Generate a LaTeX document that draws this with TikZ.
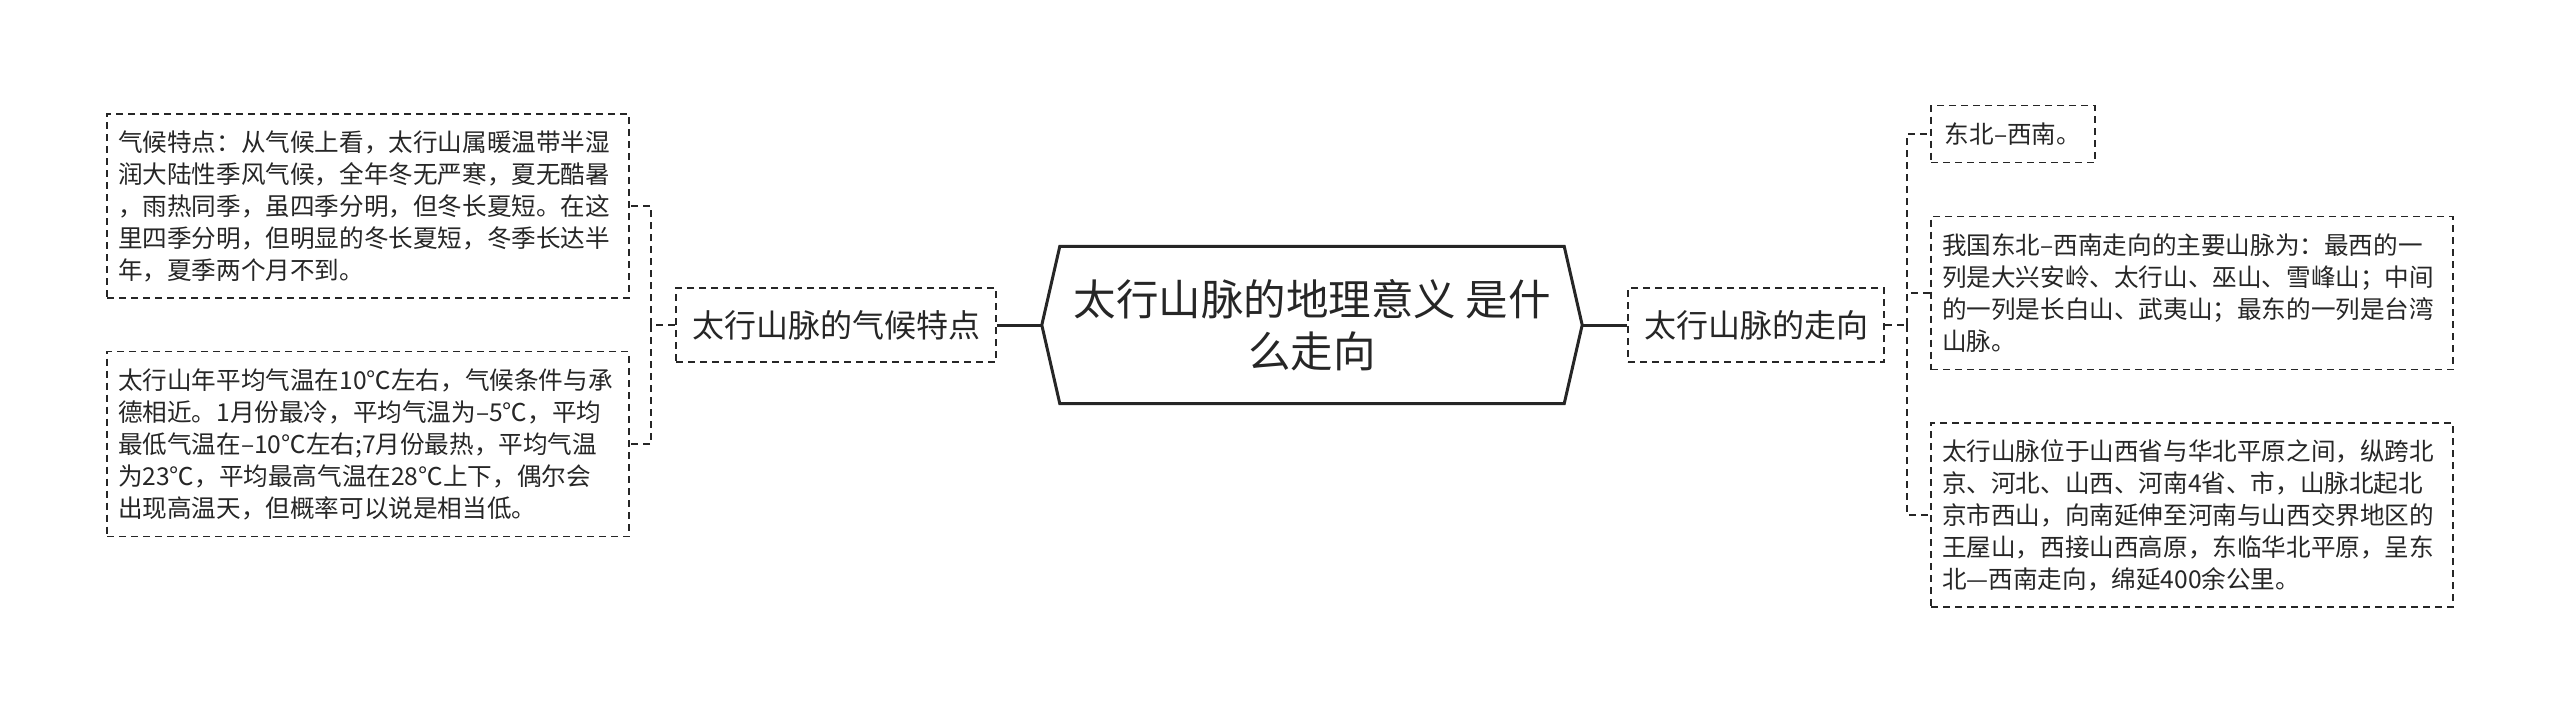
\documentclass[tikz,border=0pt]{standalone}
\usepackage{fontspec}
\setmainfont{Noto Sans CJK SC}
\usepackage{tikz}
\usetikzlibrary{positioning, calc}

\definecolor{ink}{HTML}{262626}

\begin{document}
\begin{tikzpicture}[x=1pt, y=-1pt,
  every node/.style={text=ink},
  root/.style={minimum width=504pt, minimum height=157pt, inner sep=0pt, align=center, font=\fontsize{42.5pt}{52pt}\selectfont},
  branch/.style={draw=ink, line width=1.8pt, dash pattern=on 7pt off 5pt, minimum height=74pt, inner xsep=16pt, font=\fontsize{32pt}{38pt}\selectfont},
  leaf/.style={draw=ink, line width=1.8pt, dash pattern=on 7pt off 5pt, inner xsep=11pt, align=left, font=\fontsize{24.6pt}{32pt}\selectfont},
  rootlink/.style={draw=ink, line width=3pt},
  forkline/.style={draw=ink, line width=1.8pt, dash pattern=on 7pt off 5pt},
]
  \useasboundingbox (0,0) rectangle (2560,715);

  \node[root] (root) at (1312,325) {太行山脉的地理意义 是什\\么走向};
  \coordinate (rootW) at ([xshift=-18pt]root.west);
  \coordinate (rootE) at ([xshift=18pt]root.east);
  \draw[ink, line width=3pt] (root.north west) -- (root.north east) -- (rootE) -- (root.south east) -- (root.south west) -- (rootW) -- cycle;

  \node[branch] (clim) at (836,325) {太行山脉的气候特点};
  \node[branch] (dir) at (1756,325) {太行山脉的走向};

  \node[leaf, text width=500pt, minimum height=184pt] (clim1) at (368,206) {气候特点：从气候上看，太行山属暖温带半湿\\润大陆性季风气候，全年冬无严寒，夏无酷暑\\，雨热同季，虽四季分明，但冬长夏短。在这\\里四季分明，但明显的冬长夏短，冬季长达半\\年，夏季两个月不到。};
  \node[leaf, text width=500pt, minimum height=185pt] (clim2) at (368,444) {太行山年平均气温在10℃左右，气候条件与承\\德相近。1月份最冷，平均气温为–5℃，平均\\最低气温在–10℃左右;7月份最热，平均气温\\为23℃，平均最高气温在28℃上下，偶尔会\\出现高温天，但概率可以说是相当低。};

  \node[leaf, minimum width=164pt, minimum height=57pt, inner xsep=13pt] (dir1) at (2013,134) {东北–西南。};
  \node[leaf, text width=500pt, minimum height=153pt] (dir2) at (2192,293) {我国东北–西南走向的主要山脉为：最西的一\\列是大兴安岭、太行山、巫山、雪峰山；中间\\的一列是长白山、武夷山；最东的一列是台湾\\山脉。};
  \node[leaf, text width=500pt, minimum height=184pt] (dir3) at (2192,515) {太行山脉位于山西省与华北平原之间，纵跨北\\京、河北、山西、河南4省、市，山脉北起北\\京市西山，向南延伸至河南与山西交界地区的\\王屋山，西接山西高原，东临华北平原，呈东\\北—西南走向，绵延400余公里。};

  \draw[rootlink] (clim.east) -- (rootW);
  \draw[rootlink] (rootE) -- (dir.west);

  \draw[forkline] (clim.west) -- ++(-24,0) coordinate (forkL);
  \draw[forkline] (forkL) |- (clim1.east);
  \draw[forkline] (forkL) |- (clim2.east);

  \draw[forkline] (dir.east) -- ++(22,0) coordinate (forkR);
  \draw[forkline] (forkR) |- (dir1.west);
  \draw[forkline] (forkR) |- (dir2.west);
  \draw[forkline] (forkR) |- (dir3.west);
\end{tikzpicture}
\end{document}
